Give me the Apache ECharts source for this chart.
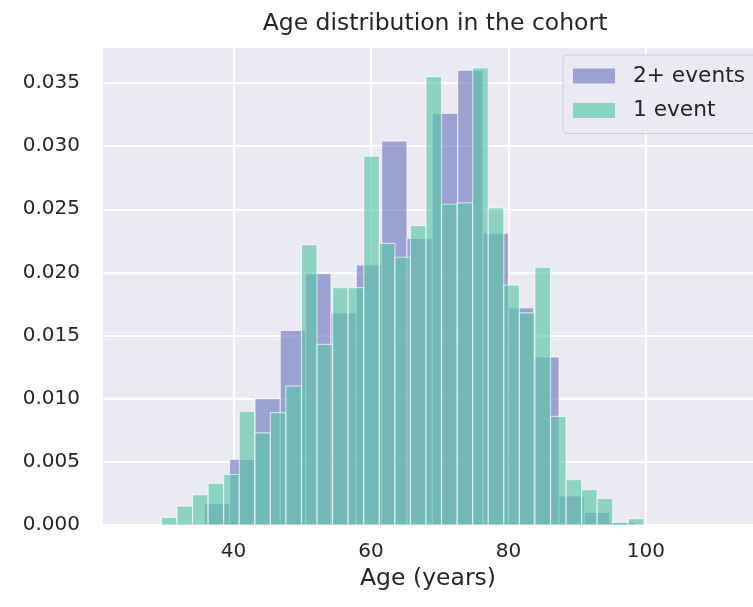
<!DOCTYPE html>
<html>
<head>
<meta charset="utf-8">
<script src="https://cdn.jsdelivr.net/npm/echarts@6/dist/echarts.min.js"></script>
<style>
html,body{margin:0;padding:0;background:#ffffff;}
#chart{width:753px;height:607px;}
</style>
</head>
<body>
<div id="chart"></div>
<script>
// ---- data ----
const titleText = 'Age distribution in the cohort';
const xAxisName = 'Age (years)';
const seriesNames = ['2+ events', '1 event'];

// "2+ events" histogram: bin left edges (years) and densities
const multiEdges = [35.74, 39.43, 43.12, 46.80, 50.49, 54.18, 57.87, 61.56, 65.24, 68.93,
                    72.62, 76.31, 80.00, 83.68, 87.37, 91.06, 94.75, 98.44];
const multiDensity = [0.0017, 0.0052, 0.0100, 0.0154, 0.0199, 0.0168, 0.0206, 0.0304, 0.0227,
                      0.0326, 0.0360, 0.0231, 0.0172, 0.0133, 0.0023, 0.0010, 0.0002];

// "1 event" histogram: bin left edges (years) and densities
const singleEdges = [29.50, 31.77, 34.03, 36.30, 38.56, 40.83, 43.09, 45.36, 47.62, 49.89,
                     52.15, 54.42, 56.68, 58.95, 61.21, 63.48, 65.74, 68.01, 70.27, 72.54,
                     74.80, 77.07, 79.33, 81.60, 83.86, 86.13, 88.39, 90.66, 92.92, 95.19,
                     97.45, 99.72];
const singleDensity = [0.0006, 0.0015, 0.0024, 0.0033, 0.0040, 0.0090, 0.0073, 0.0089, 0.0110, 0.0222,
                       0.0143, 0.0188, 0.0188, 0.0292, 0.0223, 0.0212, 0.0237, 0.0355, 0.0254, 0.0255,
                       0.0362, 0.0251, 0.0190, 0.0168, 0.0204, 0.0086, 0.0036, 0.0028, 0.0021, 0.0002,
                       0.0005];

const xTicks = [40, 60, 80, 100];
const yTicks = [0, 0.005, 0.010, 0.015, 0.020, 0.025, 0.030, 0.035];

// ---- build ----
function toBins(edges, dens) {
  const out = [];
  for (let i = 0; i < dens.length; i++) out.push([edges[i], edges[i + 1], dens[i]]);
  return out;
}

const txt = '#262626';
const font = 'DejaVu Sans';

function renderBar(params, api) {
  const p0 = api.coord([api.value(0), api.value(2)]);
  const p1 = api.coord([api.value(1), 0]);
  return {
    type: 'rect',
    shape: { x: p0[0], y: p0[1], width: p1[0] - p0[0], height: p1[1] - p0[1] },
    style: { fill: api.visual('color'), stroke: 'rgba(255,255,255,0.6)', lineWidth: 1.2 }
  };
}

const chart = echarts.init(document.getElementById('chart'), null, { renderer: 'canvas' });
chart.setOption({
  backgroundColor: '#ffffff',
  animation: false,
  textStyle: { fontFamily: font },
  title: {
    text: titleText,
    left: 430, top: 7, textAlign: 'center',
    textStyle: { color: txt, fontSize: 23.5, fontWeight: 'normal', fontFamily: font }
  },
  grid: {
    left: 103, top: 47, width: 667, height: 478,
    show: true, backgroundColor: '#EAEAF2', borderWidth: 0
  },
  legend: {
    orient: 'vertical',
    left: 563, top: 55,
    backgroundColor: 'rgba(234,234,242,0.85)',
    borderColor: '#cdcdd4', borderWidth: 1, borderRadius: 4,
    padding: [10, 30, 12, 10],
    itemWidth: 42, itemHeight: 15, itemGap: 12.5,
    icon: 'rect',
    textStyle: { color: txt, fontSize: 21.7, fontFamily: font, padding: [0, 0, 0, 13] },
    data: seriesNames
  },
  xAxis: {
    type: 'value', min: 21.0, max: 115.6,
    name: xAxisName, nameLocation: 'middle', nameGap: 40,
    nameTextStyle: { color: txt, fontSize: 23.5, fontFamily: font },
    axisLine: { show: false },
    axisTick: { show: false, customValues: xTicks },
    axisLabel: {
      color: txt, fontSize: 20, fontFamily: font, margin: 17,
      customValues: xTicks
    },
    splitLine: { show: true, lineStyle: { color: '#ffffff', width: 1.8 } }
  },
  yAxis: {
    type: 'value', min: 0, max: 0.03785, interval: 0.005,
    axisLine: { show: false }, axisTick: { show: false },
    axisLabel: {
      color: txt, fontSize: 20, fontFamily: font, margin: 23,
      formatter: v => (yTicks.some(t => Math.abs(t - v) < 1e-9) ? v.toFixed(3) : '')
    },
    splitLine: { show: true, lineStyle: { color: '#ffffff', width: 1.8 } }
  },
  series: [
    {
      name: seriesNames[0], type: 'custom', renderItem: renderBar,
      itemStyle: { color: 'rgba(112,123,190,0.65)' },
      encode: { x: [0, 1], y: 2 },
      data: toBins(multiEdges, multiDensity), z: 2
    },
    {
      name: seriesNames[1], type: 'custom', renderItem: renderBar,
      itemStyle: { color: 'rgba(92,196,168,0.65)' },
      encode: { x: [0, 1], y: 2 },
      data: toBins(singleEdges, singleDensity), z: 3
    }
  ]
});
</script>
</body>
</html>
